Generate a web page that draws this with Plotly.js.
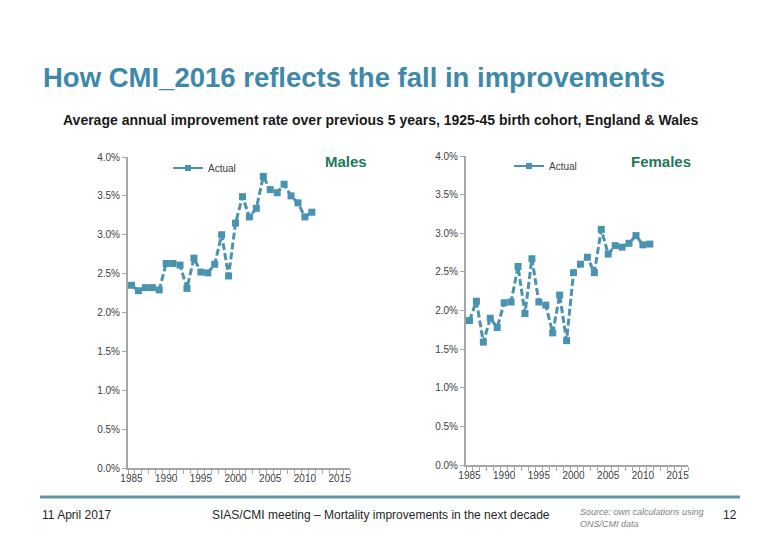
<!DOCTYPE html>
<html>
<head>
<meta charset="utf-8">
<script src="https://cdn.plot.ly/plotly-3.0.1.min.js"></script>
<style>
  html, body { margin: 0; padding: 0; background: #fff; }
  #chart { width: 780px; height: 540px; }
</style>
</head>
<body>
<div id="chart"></div>
<script>
// categories on the x axis (1985..2016) and the cohort years with data
const axisYears = ['1985','1986','1987','1988','1989','1990','1991','1992','1993','1994','1995','1996','1997','1998','1999','2000',
                   '2001','2002','2003','2004','2005','2006','2007','2008','2009','2010','2011','2012','2013','2014','2015','2016'];
const dataYears = ['1985','1986','1987','1988','1989','1990','1991','1992','1993','1994','1995','1996','1997','1998',
                   '1999','2000','2001','2002','2003','2004','2005','2006','2007','2008','2009','2010','2011'];
const axisLabels = ['1985','','','','','1990','','','','','1995','','','','','2000',
                    '','','','','2005','','','','','2010','','','','','2015',''];

// average annual improvement rates
const malesActual = [0.0235, 0.0228, 0.0232, 0.0232, 0.0229, 0.0263, 0.0263, 0.0261, 0.0231, 0.0270, 0.0252, 0.0251, 0.0262, 0.0300,
                     0.0247, 0.0315, 0.0349, 0.0323, 0.0334, 0.0375, 0.0358, 0.0354, 0.0365, 0.0350, 0.0341, 0.0323, 0.0329];
const femalesActual = [0.0187, 0.0212, 0.0159, 0.0190, 0.0178, 0.0210, 0.0211, 0.0257, 0.0196, 0.0267, 0.0211, 0.0207, 0.0171, 0.0220,
                       0.0161, 0.0249, 0.0260, 0.0269, 0.0249, 0.0305, 0.0273, 0.0284, 0.0282, 0.0287, 0.0297, 0.0285, 0.0286];

const yTicks = [0, 0.005, 0.01, 0.015, 0.02, 0.025, 0.03, 0.035, 0.04];

const SERIES_BLUE = '#4A93B0';
const AXIS_GREY = '#A6A6A6';
const FONT = 'Liberation Sans, Arial, sans-serif';

function actualTrace(ys, xa, ya) {
    return {
        x: dataYears, y: ys, xaxis: xa, yaxis: ya,
        type: 'scatter', mode: 'lines+markers',
        line: { color: SERIES_BLUE, width: 3, dash: '7px,3px' },
        marker: { symbol: 'square', size: 7, color: SERIES_BLUE },
        showlegend: false, hoverinfo: 'x+y'
    };
}

// legend-only entries (solid sample line as in the reference)
function legendTrace(xa, ya, legendId) {
    return {
        x: [null], y: [null], xaxis: xa, yaxis: ya, name: 'Actual', legend: legendId,
        type: 'scatter', mode: 'lines+markers',
        line: { color: SERIES_BLUE, width: 2 },
        marker: { symbol: 'square', size: 6, color: SERIES_BLUE },
        showlegend: true
    };
}

const xBase = {
    type: 'category', categoryorder: 'array', categoryarray: axisYears,
    range: [-0.5, axisYears.length - 0.5],
    tickmode: 'array', tickvals: axisYears, ticktext: axisLabels,
    tickson: 'boundaries', ticks: 'outside', ticklen: 4, tickwidth: 1, tickcolor: AXIS_GREY,
    showline: true, linecolor: AXIS_GREY, linewidth: 2,
    showgrid: false, zeroline: false,
    tickfont: { family: FONT, size: 10, color: '#404040' }, tickangle: 0
};
const yBase = {
    range: [0, 0.04], tickmode: 'array', tickvals: yTicks, tickformat: '.1%',
    ticks: 'outside', ticklen: 4, tickwidth: 1, tickcolor: AXIS_GREY,
    showline: true, linecolor: AXIS_GREY, linewidth: 2,
    showgrid: false, zeroline: false,
    tickfont: { family: FONT, size: 10, color: '#404040' }
};

const data = [
    actualTrace(malesActual, 'x', 'y'),
    actualTrace(femalesActual, 'x2', 'y2'),
    legendTrace('x', 'y', 'legend'),
    legendTrace('x2', 'y2', 'legend2')
];

const legendBase = {
    bgcolor: 'rgba(0,0,0,0)', font: { family: FONT, size: 10, color: '#404040' },
    yanchor: 'middle', xanchor: 'left', itemwidth: 30
};

const layout = {
    width: 780, height: 540,
    margin: { l: 0, r: 0, t: 0, b: 0 },
    paper_bgcolor: '#fff', plot_bgcolor: '#fff',
    font: { family: FONT },
    xaxis: Object.assign({}, xBase, { domain: [128 / 780, 350 / 780], anchor: 'y' }),
    yaxis: Object.assign({}, yBase, { domain: [(540 - 468) / 540, (540 - 157) / 540], anchor: 'x' }),
    xaxis2: Object.assign({}, xBase, { domain: [466 / 780, 688 / 780], anchor: 'y2' }),
    yaxis2: Object.assign({}, yBase, { domain: [(540 - 465) / 540, (540 - 156) / 540], anchor: 'x2' }),
    legend: Object.assign({}, legendBase, { x: 168 / 780, y: 1 - 168 / 540 }),
    legend2: Object.assign({}, legendBase, { x: 509 / 780, y: 1 - 166 / 540 }),
    shapes: [
        { type: 'line', xref: 'paper', yref: 'paper', x0: 40 / 780, x1: 740 / 780,
          y0: 1 - 497 / 540, y1: 1 - 497 / 540, line: { color: '#5E97A3', width: 3 } }
    ],
    annotations: [
        { text: '<b>How CMI_2016 reflects the fall in improvements</b>', xref: 'paper', yref: 'paper',
          x: 41 / 780, y: 1 - 77 / 540, xanchor: 'left', yanchor: 'middle', showarrow: false,
          font: { family: FONT, size: 27.5, color: '#3E88AA' } },
        { text: '<b>Average annual improvement rate over previous 5 years, 1925-45 birth cohort, England &amp; Wales</b>',
          xref: 'paper', yref: 'paper', x: 381 / 780, y: 1 - 120 / 540, xanchor: 'center', yanchor: 'middle',
          showarrow: false, font: { family: FONT, size: 14, color: '#1a1a1a' } },
        { text: '<b>Males</b>', xref: 'paper', yref: 'paper', x: 346 / 780, y: 1 - 161 / 540,
          xanchor: 'center', yanchor: 'middle', showarrow: false, font: { family: FONT, size: 15, color: '#1E7A5A' } },
        { text: '<b>Females</b>', xref: 'paper', yref: 'paper', x: 661 / 780, y: 1 - 161 / 540,
          xanchor: 'center', yanchor: 'middle', showarrow: false, font: { family: FONT, size: 15, color: '#1E7A5A' } },
        { text: '11 April 2017', xref: 'paper', yref: 'paper', x: 40 / 780, y: 1 - 515 / 540,
          xanchor: 'left', yanchor: 'middle', showarrow: false, font: { family: FONT, size: 12, color: '#262626' } },
        { text: 'SIAS/CMI meeting \u2013 Mortality improvements in the next decade', xref: 'paper', yref: 'paper',
          x: 381 / 780, y: 1 - 515 / 540, xanchor: 'center', yanchor: 'middle', showarrow: false,
          font: { family: FONT, size: 12, color: '#262626' } },
        { text: '<i>Source: own calculations using<br>ONS/CMI data</i>', xref: 'paper', yref: 'paper',
          x: 578 / 780, y: 1 - 518 / 540, xanchor: 'left', yanchor: 'middle', align: 'left', showarrow: false,
          font: { family: FONT, size: 9, color: '#808080' } },
        { text: '12', xref: 'paper', yref: 'paper', x: 739 / 780, y: 1 - 515 / 540,
          xanchor: 'right', yanchor: 'middle', showarrow: false, font: { family: FONT, size: 12, color: '#262626' } }
    ]
};

Plotly.newPlot('chart', data, layout, { displayModeBar: false, staticPlot: true });
</script>
</body>
</html>
